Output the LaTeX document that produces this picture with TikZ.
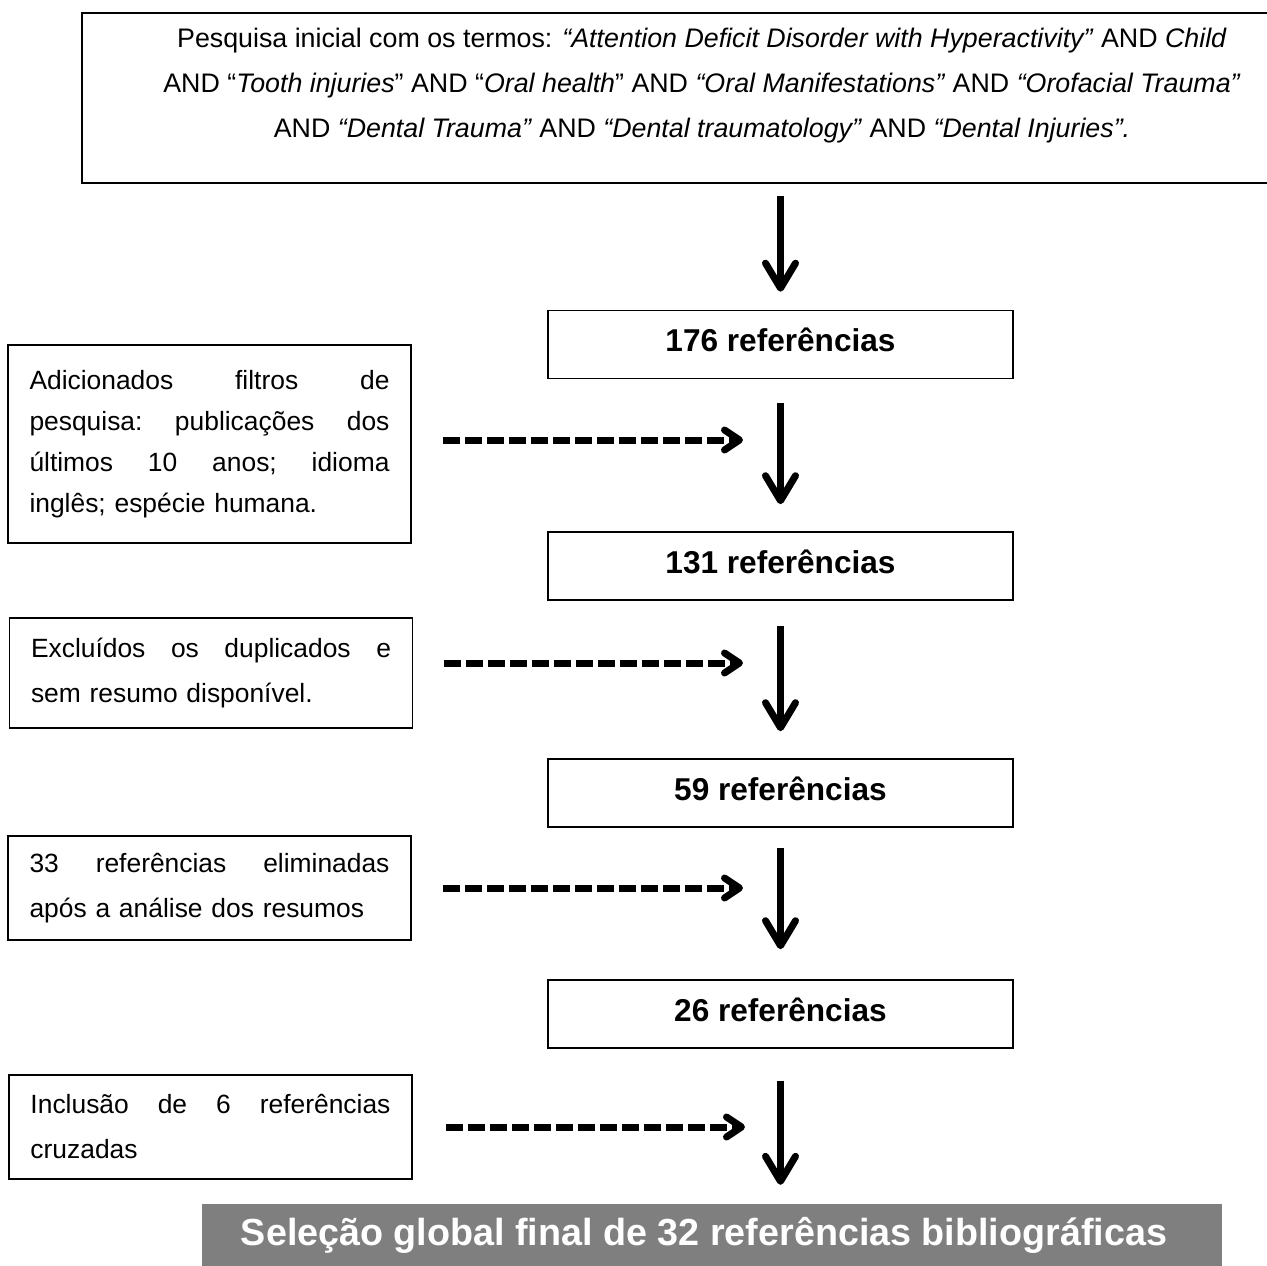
\documentclass[tikz,border=0pt]{standalone}
\usepackage{fontspec}
\setmainfont{Liberation Sans}
\usetikzlibrary{arrows.meta}
\newcommand{\jline}[3]{\leavevmode\hbox to 360pt{#1\hfill #2\hfill #3}}
\newcommand{\jlinefour}[4]{\leavevmode\hbox to 360pt{#1\hfill #2\hfill #3\hfill #4}}
\definecolor{finalgray}{RGB}{127,127,127}
\begin{document}
\begin{tikzpicture}[x=1pt,y=-1pt,
  framebox/.style={draw=black,line width=2pt,inner sep=0pt},
  refbox/.style={draw=black,line width=1.6pt,minimum width=465pt,minimum height=68pt,inner sep=0pt,
    font=\bfseries\fontsize{31.6}{38}\selectfont,text height=22.8pt,text depth=8.8pt},
  lbox/.style={draw=black,line width=1.6pt,text width=360pt,inner xsep=21.5pt,inner ysep=0pt,align=left},
  varrow/.style={line width=7pt,-{Straight Barb[length=25pt,width=30pt,round]}},
  darrow/.style={line width=7pt,dash pattern=on 17pt off 5pt,-{Straight Barb[length=15pt,width=20pt,round]}}
]
\useasboundingbox (0,0) rectangle (1267,1266);
\clip (0,0) rectangle (1267,1266);

% top box
\node[framebox,minimum width=1240pt,minimum height=170pt] (top) at (702,98) {};
\node[font=\fontsize{26.8}{45}\selectfont,align=center,inner sep=0pt] (toptext) at (702,86)
{Pesquisa inicial com os termos: \textit{“Attention Deficit Disorder with Hyperactivity”} AND \textit{Child}\\
AND “\textit{Tooth injuries}” AND “\textit{Oral health}” AND \textit{“Oral Manifestations”} AND \textit{“Orofacial Trauma”}\\
AND \textit{“Dental Trauma”} AND \textit{“Dental traumatology”} AND \textit{“Dental Injuries”.}};

% reference boxes
\node[refbox] (r176) at (780.5,344.5) {176 referências};
\node[refbox] (r131) at (780.5,566) {131 referências};
\node[refbox] (r59) at (780.5,793) {59 referências};
\node[refbox] (r26) at (780.5,1014) {26 referências};

% final box
\node[fill=finalgray,minimum width=1020pt,minimum height=64pt,inner sep=0pt,text=white,
  font=\bfseries\fontsize{37.7}{45}\selectfont,text height=28.4pt,text depth=9.4pt] (final) at (712,1236)
  {\hspace*{-8pt}Seleção global final de 32 referências bibliográficas\hspace*{8pt}};

% left boxes
\node[lbox,minimum height=198pt,font=\fontsize{26.4}{41}\selectfont] (lb1) at (209.5,444)
{\jline{Adicionados}{filtros}{de}\\\jline{pesquisa:}{publicações}{dos}\\\jlinefour{últimos}{10}{anos;}{idioma}\\inglês; espécie humana.};
\node[lbox,minimum height=110pt,font=\fontsize{26.4}{45}\selectfont] (lb2) at (211,673)
{\jlinefour{Excluídos}{os}{duplicados}{e}\\sem resumo disponível.};
\node[lbox,minimum height=104pt,font=\fontsize{26.4}{45}\selectfont] (lb3) at (209.5,888)
{\jline{33}{referências}{eliminadas}\\após a análise dos resumos};
\node[lbox,minimum height=104pt,font=\fontsize{26.4}{45}\selectfont] (lb4) at (210.5,1127)
{\jlinefour{Inclusão}{de}{6}{referências}\\cruzadas};

% vertical arrows
\draw[varrow,shorten <=12pt,shorten >=18pt] (r176.north |- top.south) -- (r176.north);
\draw[varrow,shorten <=24pt,shorten >=27pt] (r176.south) -- (r131.north);
\draw[varrow,shorten <=25pt,shorten >=27pt] (r131.south) -- (r59.north);
\draw[varrow,shorten <=20pt,shorten >=30pt] (r59.south) -- (r26.north);
\draw[varrow,shorten <=32pt,shorten >=19pt] (r26.south) -- (r26.south |- final.north);

% dashed arrows
\coordinate (m1) at (780,440);
\coordinate (m2) at (780,663);
\coordinate (m3) at (780,888);
\coordinate (m4) at (780,1127);
\draw[darrow,shorten <=31pt,shorten >=37pt] (lb1.east |- m1) -- (m1);
\draw[darrow,shorten <=31pt,shorten >=37pt] (lb2.east |- m2) -- (m2);
\draw[darrow,shorten <=31pt,shorten >=37pt] (lb3.east |- m3) -- (m3);
\draw[darrow,shorten <=33pt,shorten >=35pt] (lb4.east |- m4) -- (m4);
\end{tikzpicture}
\end{document}
